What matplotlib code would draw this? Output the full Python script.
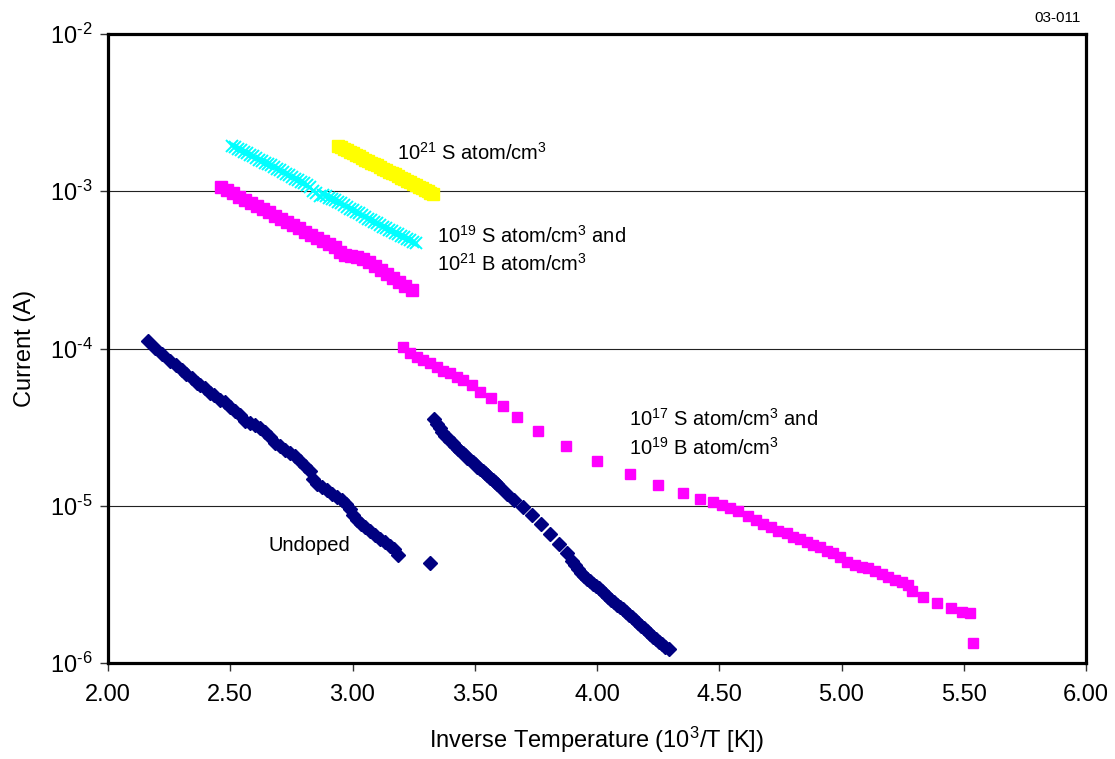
import matplotlib
matplotlib.use("Agg")
import math
import matplotlib.pyplot as plt
from matplotlib.ticker import FixedLocator, NullLocator, FuncFormatter

plt.rcParams['font.family'] = ['Liberation Sans', 'DejaVu Sans']
plt.rcParams['mathtext.fontset'] = 'custom'
plt.rcParams['mathtext.rm'] = 'Liberation Sans'
plt.rcParams['mathtext.it'] = 'Liberation Sans'
plt.rcParams['mathtext.default'] = 'regular'
plt.rcParams['axes.unicode_minus'] = False

# ---------------- data ----------------
undoped_a_x = [2.164, 2.192, 2.221, 2.254, 2.278, 2.303, 2.319, 2.344, 2.364, 2.376,
               2.397, 2.417, 2.434, 2.458, 2.479, 2.499, 2.519, 2.540, 2.560, 2.581,
               2.601, 2.622, 2.642, 2.663, 2.683, 2.703, 2.724, 2.744, 2.765, 2.785,
               2.806, 2.826, 2.838, 2.855, 2.875, 2.896, 2.916, 2.937, 2.957, 2.973,
               2.990, 3.002, 3.018, 3.035, 3.051, 3.072, 3.092, 3.112, 3.133, 3.153,
               3.170, 3.186, 3.317]
undoped_a_y = [1.12e-4, 1.01e-4, 9.2e-5, 8.3e-5, 7.9e-5, 7.3e-5, 6.9e-5, 6.5e-5, 6.0e-5, 5.9e-5,
               5.6e-5, 5.2e-5, 5.06e-5, 4.71e-5, 4.57e-5, 4.25e-5, 4.01e-5, 3.78e-5, 3.46e-5, 3.36e-5,
               3.26e-5, 3.12e-5, 2.94e-5, 2.74e-5, 2.51e-5, 2.40e-5, 2.26e-5, 2.16e-5, 2.07e-5, 1.93e-5,
               1.79e-5, 1.66e-5, 1.48e-5, 1.38e-5, 1.32e-5, 1.26e-5, 1.19e-5, 1.14e-5, 1.09e-5, 1.03e-5,
               9.5e-6, 8.7e-6, 8.1e-6, 7.65e-6, 7.33e-6, 6.91e-6, 6.51e-6, 6.15e-6, 5.88e-6, 5.55e-6,
               5.31e-6, 4.86e-6, 4.33e-6]

undoped_b_x = [3.333, 3.345, 3.358, 3.368, 3.378, 3.389, 3.399, 3.409, 3.419, 3.430, 3.440,
               3.450, 3.460, 3.470, 3.481, 3.491, 3.501, 3.511, 3.521, 3.532,
               3.542, 3.552, 3.562, 3.573, 3.583, 3.593, 3.603, 3.632, 3.661, 3.697, 3.734, 3.771, 3.808,
               3.845, 3.877, 3.898, 3.910, 3.922, 3.935, 3.947, 3.959, 3.971, 3.984, 3.996, 4.008,
               4.020, 4.033, 4.045, 4.057, 4.070, 4.082,
               4.094, 4.107, 4.119, 4.131, 4.143, 4.156, 4.168, 4.180, 4.192, 4.205, 4.217,
               4.229, 4.241, 4.254, 4.266, 4.280, 4.294]
undoped_b_y = [3.56e-5, 3.32e-5, 3.12e-5, 2.94e-5, 2.78e-5, 2.68e-5, 2.58e-5, 2.49e-5, 2.40e-5, 2.31e-5, 2.23e-5,
               2.16e-5, 2.10e-5, 2.02e-5, 1.95e-5, 1.89e-5, 1.84e-5, 1.77e-5, 1.71e-5, 1.66e-5,
               1.62e-5, 1.56e-5, 1.50e-5, 1.46e-5, 1.42e-5, 1.37e-5, 1.32e-5, 1.19e-5, 1.09e-5, 9.8e-6, 8.7e-6, 7.65e-6, 6.61e-6,
               5.71e-6, 5.01e-6, 4.46e-6, 4.20e-6, 3.96e-6, 3.76e-6, 3.57e-6, 3.44e-6, 3.32e-6, 3.20e-6, 3.09e-6, 2.98e-6,
               2.87e-6, 2.75e-6, 2.63e-6, 2.53e-6, 2.44e-6, 2.35e-6,
               2.27e-6, 2.19e-6, 2.11e-6, 2.03e-6, 1.96e-6, 1.88e-6, 1.80e-6, 1.73e-6, 1.67e-6, 1.60e-6, 1.53e-6,
               1.47e-6, 1.42e-6, 1.37e-6, 1.32e-6, 1.27e-6, 1.23e-6]

b21_x = [2.462, 2.487, 2.511, 2.536, 2.560, 2.585, 2.609, 2.634, 2.658, 2.683,
         2.708, 2.732, 2.757, 2.781, 2.806, 2.830, 2.855, 2.879, 2.904, 2.928,
         2.949, 2.969, 2.994, 3.018, 3.043, 3.067, 3.092, 3.117, 3.141, 3.166,
         3.190, 3.215, 3.243]
b21_y = [1.06e-3, 1.02e-3, 9.75e-4, 9.19e-4, 8.80e-4, 8.41e-4, 8.05e-4, 7.70e-4, 7.37e-4, 6.95e-4,
         6.66e-4, 6.37e-4, 6.10e-4, 5.83e-4, 5.50e-4, 5.27e-4, 5.04e-4, 4.83e-4, 4.62e-4, 4.42e-4,
         4.11e-4, 3.93e-4, 3.87e-4, 3.82e-4, 3.71e-4, 3.55e-4, 3.35e-4, 3.16e-4, 2.98e-4, 2.81e-4,
         2.65e-4, 2.50e-4, 2.35e-4]

s19_x = [2.507, 2.520, 2.532, 2.544, 2.556, 2.569, 2.581, 2.593, 2.605, 2.618, 2.630, 2.642, 2.654,
         2.667, 2.679, 2.691, 2.703, 2.716, 2.728, 2.740,
         2.753, 2.765, 2.777, 2.790, 2.802, 2.814, 2.826, 2.839, 2.851, 2.867, 2.880, 2.892, 2.904,
         2.916, 2.929, 2.941, 2.953, 2.965, 2.978,
         2.990, 3.002, 3.014, 3.027, 3.039, 3.051, 3.063, 3.076, 3.088, 3.100, 3.112, 3.125,
         3.137, 3.149, 3.162, 3.174, 3.186, 3.199, 3.211, 3.223,
         3.235, 3.248, 3.260]
s19_y = [1.94e-3, 1.90e-3, 1.86e-3, 1.82e-3, 1.78e-3, 1.74e-3, 1.70e-3, 1.67e-3, 1.63e-3, 1.59e-3, 1.56e-3, 1.52e-3, 1.49e-3,
         1.46e-3, 1.43e-3, 1.39e-3, 1.36e-3, 1.32e-3, 1.29e-3, 1.26e-3,
         1.23e-3, 1.20e-3, 1.18e-3, 1.15e-3, 1.13e-3, 1.09e-3, 1.06e-3, 1.00e-3, 9.75e-4, 9.33e-4, 9.40e-4, 9.33e-4, 9.10e-4,
         8.93e-4, 8.74e-4, 8.55e-4, 8.36e-4, 8.18e-4, 7.95e-4,
         7.71e-4, 7.55e-4, 7.38e-4, 7.22e-4, 7.06e-4, 6.85e-4, 6.66e-4, 6.52e-4, 6.38e-4, 6.24e-4, 6.10e-4, 5.96e-4,
         5.83e-4, 5.70e-4, 5.58e-4, 5.46e-4, 5.34e-4, 5.22e-4, 5.11e-4, 5.00e-4,
         4.89e-4, 4.79e-4, 4.69e-4]

s21_x = [2.941, 2.953, 2.965, 2.978, 2.990, 3.002, 3.014, 3.027, 3.039, 3.051, 3.063, 3.076,
         3.088, 3.100, 3.112, 3.125, 3.137, 3.149, 3.162, 3.174,
         3.186, 3.199, 3.211, 3.223, 3.235, 3.248, 3.260, 3.272, 3.284, 3.297, 3.309, 3.319, 3.329]
s21_y = [1.94e-3, 1.90e-3, 1.86e-3, 1.82e-3, 1.78e-3, 1.74e-3, 1.70e-3, 1.67e-3, 1.63e-3, 1.59e-3, 1.56e-3, 1.52e-3,
         1.49e-3, 1.46e-3, 1.43e-3, 1.39e-3, 1.36e-3, 1.33e-3, 1.31e-3, 1.28e-3,
         1.25e-3, 1.22e-3, 1.20e-3, 1.17e-3, 1.15e-3, 1.12e-3, 1.10e-3, 1.07e-3, 1.05e-3, 1.02e-3, 1.00e-3, 9.8e-4, 9.6e-4]

s17_x = [3.207, 3.235, 3.264, 3.288, 3.317, 3.346, 3.370, 3.399, 3.427, 3.452,
         3.489, 3.521, 3.566, 3.616, 3.673, 3.759, 3.873, 4.000, 4.135, 4.249,
         4.352, 4.421, 4.474, 4.511, 4.544, 4.577, 4.618, 4.650, 4.679, 4.712,
         4.740, 4.777, 4.802, 4.830, 4.859, 4.883, 4.912, 4.941, 4.965, 4.994,
         5.022, 5.055, 5.084, 5.108, 5.137, 5.166, 5.190, 5.219, 5.247, 5.272,
         5.288, 5.333, 5.391, 5.448, 5.493, 5.526, 5.538]
s17_y = [1.02e-4, 9.36e-5, 8.83e-5, 8.45e-5, 8.09e-5, 7.63e-5, 7.19e-5, 6.98e-5, 6.59e-5, 6.31e-5,
         5.86e-5, 5.28e-5, 4.84e-5, 4.31e-5, 3.66e-5, 2.99e-5, 2.40e-5, 1.93e-5, 1.59e-5, 1.36e-5,
         1.21e-5, 1.10e-5, 1.06e-5, 1.01e-5, 9.68e-6, 9.26e-6, 8.61e-6, 8.11e-6, 7.65e-6, 7.33e-6,
         6.91e-6, 6.71e-6, 6.33e-6, 6.15e-6, 5.88e-6, 5.62e-6, 5.47e-6, 5.15e-6, 5.01e-6, 4.72e-6,
         4.39e-6, 4.20e-6, 4.08e-6, 4.02e-6, 3.85e-6, 3.68e-6, 3.52e-6, 3.37e-6, 3.27e-6, 3.13e-6,
         2.87e-6, 2.63e-6, 2.41e-6, 2.24e-6, 2.11e-6, 2.08e-6, 1.34e-6]

x_ticks = [2.0, 2.5, 3.0, 3.5, 4.0, 4.5, 5.0, 5.5, 6.0]
y_ticks = [1e-6, 1e-5, 1e-4, 1e-3, 1e-2]

# ---------------- figure ----------------
fig = plt.figure(figsize=(11.15, 7.59), dpi=100)
ax = fig.add_axes([108/1115, 1-663/759, (1086-108)/1115, (663-34)/759])
ax.set_yscale('log')
ax.set_xlim(2.0, 6.0)
ax.set_ylim(1e-6, 1e-2)

for y in y_ticks[1:-1]:
    ax.axhline(y, color='#222222', lw=0.8, zorder=1)

ax.plot(s21_x, s21_y, ls='none', marker='s', ms=8.5, color='#FFFF00', mec='#FFFF00', zorder=3)
ax.plot(s19_x, s19_y, ls='none', marker='x', ms=8.5, mew=1.4, color='#00FFFF', zorder=3)
ax.plot(b21_x, b21_y, ls='none', marker='s', ms=8.2, color='#FF00FF', mec='#FF00FF', zorder=3)
ax.plot(s17_x, s17_y, ls='none', marker='s', ms=7.3, color='#FF00FF', mec='#FF00FF', zorder=3)
ax.plot(undoped_a_x, undoped_a_y, ls='none', marker='D', ms=6.8, color='#000080', mec='#000080', zorder=4)
ax.plot(undoped_b_x, undoped_b_y, ls='none', marker='D', ms=6.8, color='#000080', mec='#000080', zorder=4)

for s in ax.spines.values():
    s.set_linewidth(2.3)
    s.set_color('black')

ax.xaxis.set_major_locator(FixedLocator(x_ticks))
ax.xaxis.set_major_formatter(FuncFormatter(lambda v, p: f"{v:.2f}"))
ax.yaxis.set_major_locator(FixedLocator(y_ticks))
ax.yaxis.set_minor_locator(NullLocator())
ax.xaxis.set_minor_locator(NullLocator())

def yfmt(v, p):
    e = int(round(math.log10(v)))
    return r'$10^{\text{-}%d}$' % abs(e)
ax.yaxis.set_major_formatter(FuncFormatter(yfmt))

ax.tick_params(axis='both', direction='out', length=6, width=1, labelsize=17, color='#333333')
ax.tick_params(axis='x', pad=9)
ax.tick_params(axis='y', pad=5)

ax.set_xlabel(r'Inverse Temperature (10$^3$/T [K])', fontsize=17, labelpad=14)
ax.set_ylabel('Current (A)', fontsize=17, labelpad=10)

fs = 14.5
ax.text(3.18, 10**-2.757, r'10$^{21}$ S atom/cm$^3$', fontsize=fs, va='center', ha='left')
ax.text(3.345, 10**-3.283, r'10$^{19}$ S atom/cm$^3$ and', fontsize=fs, va='center', ha='left')
ax.text(3.345, 10**-3.461, r'10$^{21}$ B atom/cm$^3$', fontsize=fs, va='center', ha='left')
ax.text(4.13, 10**-4.448, r'10$^{17}$ S atom/cm$^3$ and', fontsize=fs, va='center', ha='left')
ax.text(4.13, 10**-4.632, r'10$^{19}$ B atom/cm$^3$', fontsize=fs, va='center', ha='left')
ax.text(2.655, 10**-5.255, 'Undoped', fontsize=fs, va='center', ha='left')

fig.text(1058/1115, 1-18/759, '03-011', fontsize=11, ha='center', va='center')

fig.savefig('out.png', dpi=100)
